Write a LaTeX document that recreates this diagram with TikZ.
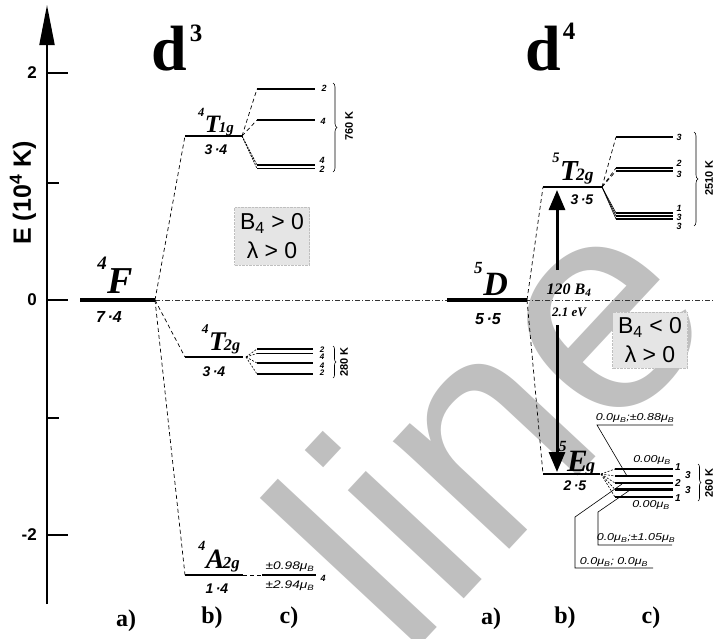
\documentclass[tikz,border=0pt]{standalone}
\usepackage{fontspec}
\setmainfont{Liberation Serif}
\setsansfont{Liberation Sans}
\newfontfamily\widesans[FakeStretch=1.25]{Liberation Sans}
\usetikzlibrary{arrows.meta,decorations.pathreplacing}
\newcommand{\trm}[3]{{\bfseries\itshape\raisebox{0.62em}{\scalebox{0.5}{#1}}\kern0.02em#2\kern-0.06em\raisebox{-0.02em}{\scalebox{0.6}{#3}}}}
\newcommand{\muB}{μ\textsubscript{B}}
\tikzset{
  mainlvl/.style={line width=4pt},
  midlvl/.style={line width=2.8pt},
  thinlvl/.style={line width=2pt},
  sublvl/.style={line width=1.6pt},
  dlink/.style={dash pattern=on 4pt off 3pt, line width=0.7pt},
  shortlink/.style={dash pattern=on 2pt off 1.5pt, line width=0.6pt},
  thinline/.style={line width=0.6pt},
  multlab/.style={font=\sffamily\bfseries\itshape\fontsize{14}{14}\selectfont, inner sep=0},
  biglab/.style={font=\sffamily\bfseries\itshape\fontsize{16}{16}\selectfont, inner sep=0},
  deg/.style={font=\sffamily\bfseries\itshape\fontsize{9}{9}\selectfont, inner sep=0},
  smalldeg/.style={font=\sffamily\bfseries\itshape\fontsize{8}{8}\selectfont, inner sep=0},
  kelvin/.style={font=\sffamily\bfseries\fontsize{11}{11}\selectfont, inner sep=0, rotate=90},
  bracket/.style={decorate, decoration={brace, amplitude=4pt}, line width=0.6pt},
  pbox/.style={fill=black!10, draw=black!25, densely dotted, minimum width=75pt, minimum height=58pt, inner sep=0, align=center, font=\sffamily\fontsize{23}{29}\selectfont},
  muval/.style={font=\widesans\itshape\fontsize{10}{10}\selectfont, inner sep=0},
  part/.style={font=\bfseries\fontsize{24}{24}\selectfont, inner sep=0},
  ticklab/.style={font=\sffamily\bfseries\fontsize{17}{17}\selectfont, inner sep=0},
  wm/.style={font=\sffamily\fontsize{300}{300}\selectfont, text=black!25, inner sep=0},
  bigarrow/.style={line width=3pt, -{Triangle[length=20pt,width=16pt]}},
}
\begin{document}
\begin{tikzpicture}[x=1pt,y=-1pt]
\useasboundingbox (0,0) rectangle (715,638);
\fill[white] (0,0) rectangle (715,638);
% watermark
\begin{scope}
\clip (0,0) rectangle (715,638);
\node[wm, anchor=base west, rotate=47] (wm) at (405,662) {line};
\end{scope}

% axis
\coordinate (ax0) at (47,604);
\coordinate (ax1) at (47,5);
\draw[line width=2pt, -{Triangle[length=40pt,width=15pt]}] (ax0) -- (ax1);
\coordinate (tk2) at (47,73);
\coordinate (tk1) at (47,183);
\coordinate (tk0) at (47,300);
\coordinate (tkm1) at (47,418);
\coordinate (tkm2) at (47,535);
\draw[line width=2pt] (tk2) -- ++(21,0) (tk0) -- ++(21,0) (tkm2) -- ++(21,0)
  (tk1) -- ++(12,0) (tkm1) -- ++(12,0);
\node[ticklab, anchor=east] (l2) at (37,73) {2};
\node[ticklab, anchor=east] (l0) at (37,300) {0};
\node[ticklab, anchor=east] (lm2) at (37,535) {-2};
\node[font=\sffamily\bfseries\fontsize{25}{25}\selectfont, rotate=90, inner sep=0] (elab) at (23,193) {E (10\textsuperscript{4} K)};

% zero line
\coordinate (zr) at (715,300);
\coordinate (Fl) at (80,300);
\coordinate (Fr) at (155,300);
\draw[line width=0.6pt, black!80, dash pattern=on 5pt off 2pt on 1pt off 2pt] (Fr) -- (zr);

% titles
\node[anchor=base west, inner sep=0] (d3) at (151,70) {\bfseries\fontsize{64}{64}\selectfont d\kern3pt\raisebox{29pt}{\fontsize{25}{25}\selectfont 3}};
\node[anchor=base west, inner sep=0] (d4) at (525,70) {\bfseries\fontsize{64}{64}\selectfont d\kern2pt\raisebox{31pt}{\fontsize{25}{25}\selectfont 4}};

% ---------------- d3 ----------------
\draw[mainlvl] (Fl) -- (Fr);
\node[anchor=base, inner sep=0, font=\fontsize{38}{38}\selectfont] (Flab) at (114,293) {\trm{4}{F}{}};
\node[biglab] (Fm) at (109,317) {7\,·4};

\coordinate (T1l) at (185,136);
\coordinate (T1r) at (242,136);
\coordinate (T2l) at (185,357);
\coordinate (T2r) at (243,357);
\coordinate (A2l) at (185,575);
\coordinate (A2r) at (243,575);
\draw[dlink] (Fr) -- (T1l);
\draw[dlink] (Fr) -- (T2l);
\draw[dlink] (Fr) -- (A2l);
\draw[thinlvl] (T1l) -- (T1r);
\draw[thinlvl] (T2l) -- (T2r);
\draw[thinlvl] (A2l) -- (A2r);

\node[anchor=base, inner sep=0, font=\fontsize{25}{25}\selectfont] (T1lab) at (216,132) {\trm{4}{T}{1g}};
\node[multlab] (T1m) at (216,150) {3\,·4};
\node[anchor=base, inner sep=0, font=\fontsize{27}{27}\selectfont] (T2lab) at (221,350) {\trm{4}{T}{2g}};
\node[multlab] (T2m) at (214,372) {3\,·4};
\node[anchor=base, inner sep=0, font=\fontsize{28}{28}\selectfont] (A2lab) at (219,568) {\trm{4}{A}{2g}};
\node[multlab] (A2m) at (217,589) {1\,·4};

% 4T1g splitting
\coordinate (Ta) at (257,89);  \coordinate (Tae) at (315,89);
\coordinate (Tb) at (257,120); \coordinate (Tbe) at (315,120);
\coordinate (Tc) at (257,165); \coordinate (Tce) at (315,165);
\coordinate (Td) at (257,168.5); \coordinate (Tde) at (315,168.5);
\draw[sublvl] (Ta) -- (Tae);
\draw[sublvl] (Tb) -- (Tbe);
\draw[sublvl] (Tc) -- (Tce);
\draw[sublvl] (Td) -- (Tde);
\draw[dlink] (T1r) -- (Ta);
\draw[dlink] (T1r) -- (Tb);
\draw[dlink, dash pattern=on 2pt off 1pt] (T1r) -- (Tc);
\draw[dlink, dash pattern=on 2pt off 1pt] (T1r) -- (Td);
\node[deg] (Tan) at (324,88) {2};
\node[deg] (Tbn) at (323,121) {4};
\node[deg] (Tcn) at (322,160) {4};
\node[deg] (Tdn) at (322,169) {2};
\coordinate (B1t) at (333,83);
\coordinate (B1b) at (333,172);
\draw[bracket] (B1t) -- (B1b);
\node[kelvin] (K760) at (349,126) {760 K};

% box 1
\node[pbox] (box1) at (272,236) {B\textsubscript{4} > 0\\λ > 0};

% 4T2g splitting
\coordinate (Sa) at (257,349); \coordinate (Sae) at (313,349);
\coordinate (Sb) at (257,353.5); \coordinate (Sbe) at (313,353.5);
\coordinate (Sc) at (257,363); \coordinate (Sce) at (313,363);
\coordinate (Sd) at (257,374); \coordinate (Sde) at (313,374);
\coordinate (T2s) at (246,357);
\draw[sublvl] (Sa) -- (Sae);
\draw[sublvl] (Sb) -- (Sbe);
\draw[sublvl] (Sc) -- (Sce);
\draw[sublvl] (Sd) -- (Sde);
\draw[shortlink] (T2s) -- (Sa);
\draw[shortlink] (T2s) -- (Sb);
\draw[shortlink] (T2s) -- (Sc);
\draw[shortlink] (T2s) -- (Sd);
\node[smalldeg] (San) at (322,350) {2};
\node[smalldeg] (Sbn) at (322,357) {4};
\node[smalldeg] (Scn) at (322,366) {4};
\node[smalldeg] (Sdn) at (322,373) {2};
\coordinate (B2t) at (333,346);
\coordinate (B2b) at (333,378);
\draw[bracket, decoration={brace, amplitude=3pt}] (B2t) -- (B2b);
\node[kelvin] (K280) at (344,362) {280 K};

% 4A2g
\coordinate (Aa) at (262,575); \coordinate (Aae) at (316,575);
\draw[dlink] (A2r) -- (Aa);
\draw[sublvl] (Aa) -- (Aae);
\node[muval, font=\widesans\itshape\fontsize{11}{11}\selectfont] (Am1) at (290,567) {±0.98\muB};
\node[muval, font=\widesans\itshape\fontsize{11}{11}\selectfont] (Am2) at (290,586) {±2.94\muB};
\node[deg] (An) at (323,578) {4};

% ---------------- d4 ----------------
\coordinate (Dl) at (447,300);
\coordinate (Dr) at (527,300);
\draw[mainlvl] (Dl) -- (Dr);
\node[anchor=base, inner sep=0, font=\fontsize{34}{34}\selectfont] (Dlab) at (490,295) {\trm{5}{D}{}};
\node[biglab] (Dm) at (488,319) {5\,·5};

\coordinate (Ul) at (543,187);
\coordinate (Ur) at (602,187);
\coordinate (El) at (543,474);
\coordinate (Er) at (600,474);
\draw[dlink] (Dr) -- (Ul);
\draw[dlink] (Dr) -- (El);
\draw[midlvl] (Ul) -- (Ur);
\draw[midlvl] (El) -- (Er);
\node[anchor=base, inner sep=0, font=\fontsize{29}{29}\selectfont] (Ulab) at (573,180) {\trm{5}{T}{2g}};
\node[multlab] (Um) at (582,200) {3\,·5};
\node[anchor=base, inner sep=0, font=\fontsize{31}{31}\selectfont] (Elab) at (577,471) {\trm{5}{E}{g}};
\node[multlab] (Em) at (575,486) {2\,·5};

% big arrow
\coordinate (AtTip) at (557,190);
\coordinate (AtBase) at (557,270);
\coordinate (AbBase) at (557,325);
\coordinate (AbTip) at (557,472);
\draw[bigarrow] (AtBase) -- (AtTip);
\draw[bigarrow] (AbBase) -- (AbTip);
\node[inner sep=0, font=\bfseries\itshape\fontsize{16}{16}\selectfont] (Blab) at (569,290) {120 B\textsubscript{4}};
\node[inner sep=0, font=\bfseries\itshape\fontsize{13}{13}\selectfont] (eVlab) at (569,312) {2.1 eV};

% box 2
\node[pbox, minimum height=56pt] (box2) at (650,340) {B\textsubscript{4} < 0\\λ > 0};

% 5T2g splitting
\coordinate (Ua) at (616,137); \coordinate (Uae) at (673,137);
\coordinate (Ub) at (616,168); \coordinate (Ube) at (673,168);
\coordinate (Uc) at (616,171); \coordinate (Uce) at (673,171);
\coordinate (Ud) at (616,213); \coordinate (Ude) at (673,213);
\coordinate (Ue) at (616,216); \coordinate (Uee) at (673,216);
\coordinate (Uf) at (616,219); \coordinate (Ufe) at (673,219);
\draw[sublvl] (Ua) -- (Uae);
\draw[sublvl] (Ub) -- (Ube);
\draw[sublvl] (Uc) -- (Uce);
\draw[sublvl] (Ud) -- (Ude);
\draw[sublvl] (Ue) -- (Uee);
\draw[sublvl] (Uf) -- (Ufe);
\draw[dlink] (Ur) -- (Ua);
\draw[dlink] (Ur) -- (Ub);
\draw[dlink] (Ur) -- (Uc);
\draw[thinline] (Ur) -- (Ud);
\draw[thinline] (Ur) -- (Ue);
\draw[thinline] (Ur) -- (Uf);
\node[deg] (Uan) at (679,137) {3};
\node[deg] (Ubn) at (679,163) {2};
\node[deg] (Ucn) at (679,174) {3};
\node[deg] (Udn) at (679,208) {1};
\node[deg] (Uen) at (679,217) {3};
\node[deg] (Ufn) at (679,226) {3};
\coordinate (B3t) at (694,132);
\coordinate (B3b) at (694,226);
\draw[bracket] (B3t) -- (B3b);
\node[kelvin] (K2510) at (709,178) {2510 K};

% 5Eg splitting
\coordinate (Ea) at (615,469); \coordinate (Eae) at (673,469);
\coordinate (Eb) at (615,476); \coordinate (Ebe) at (673,476);
\coordinate (Ec) at (615,483); \coordinate (Ece) at (673,483);
\coordinate (Ed) at (615,489.5); \coordinate (Ede) at (673,489.5);
\coordinate (Ee) at (615,497); \coordinate (Eee) at (673,497);
\coordinate (Es) at (601,474);
\draw[midlvl, line width=2.4pt] (Ea) -- (Eae);
\draw[midlvl, line width=2.4pt] (Eb) -- (Ebe);
\draw[midlvl, line width=2.4pt] (Ec) -- (Ece);
\draw[midlvl, line width=2.4pt] (Ed) -- (Ede);
\draw[midlvl, line width=2.4pt] (Ee) -- (Eee);
\draw[shortlink] (Es) -- (Ea);
\draw[shortlink] (Es) -- (Eb);
\draw[shortlink] (Es) -- (Ec);
\draw[shortlink] (Es) -- (Ed);
\draw[shortlink] (Es) -- (Ee);
\node[deg, font=\sffamily\bfseries\itshape\fontsize{10}{10}\selectfont] (Ean) at (678,467) {1};
\node[deg, font=\sffamily\bfseries\itshape\fontsize{10}{10}\selectfont] (Ebn) at (688,475) {3};
\node[deg, font=\sffamily\bfseries\itshape\fontsize{10}{10}\selectfont] (Ecn) at (678,483) {2};
\node[deg, font=\sffamily\bfseries\itshape\fontsize{10}{10}\selectfont] (Edn) at (688,490) {3};
\node[deg, font=\sffamily\bfseries\itshape\fontsize{10}{10}\selectfont] (Een) at (678,498) {1};
\coordinate (B4t) at (698,464);
\coordinate (B4b) at (698,501);
\draw[bracket, decoration={brace, amplitude=3pt}] (B4t) -- (B4b);
\node[kelvin] (K260) at (709,483) {260 K};

\node[muval] (E0t) at (652,460) {0.00\muB};
\node[muval] (E0b) at (651,505) {0.00\muB};

% callouts
\coordinate (c1a) at (597,425); \coordinate (c1b) at (673,425); \coordinate (c1p) at (627,476);
\node[muval] (c1) at (635,418) {0.0\muB;±0.88\muB};
\draw[thinline] (c1b) -- (c1a) -- (c1p);
\coordinate (c2a) at (598,545); \coordinate (c2b) at (672,545); \coordinate (c2k) at (598,512); \coordinate (c2p) at (630,490);
\node[muval] (c2) at (636,538) {0.0\muB;±1.05\muB};
\draw[thinline] (c2b) -- (c2a) -- (c2k) -- (c2p);
\coordinate (c3a) at (575,568); \coordinate (c3b) at (653,568); \coordinate (c3k) at (575,517); \coordinate (c3p) at (622,484);
\node[muval] (c3) at (614,562) {0.0\muB ; 0.0\muB};
\draw[thinline] (c3b) -- (c3a) -- (c3k) -- (c3p);

% part labels
\node[part] (pa1) at (126,621) {a)};
\node[part] (pb1) at (212,618) {b)};
\node[part] (pc1) at (289,618) {c)};
\node[part] (pa2) at (491,619) {a)};
\node[part] (pb2) at (565,618) {b)};
\node[part] (pc2) at (651,618) {c)};
\end{tikzpicture}
\end{document}
